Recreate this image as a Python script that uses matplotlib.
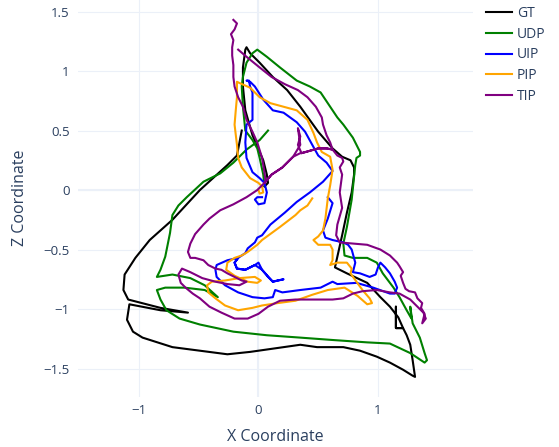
import matplotlib
matplotlib.use("Agg")
import matplotlib.pyplot as plt

plt.rcParams['font.family'] = ['Open Sans', 'DejaVu Sans']

# Trajectories (X, Z)
gt_x = [-0.14, -0.18, -0.26, -0.49, -0.72, -0.91, -1.03, -1.12, -1.13, -1.09,
        -0.82, -0.59, -0.82, -1.08, -1.10, -1.05, -0.97, -0.72, -0.49, -0.26,
        -0.07, 0.21, 0.35, 0.49, 0.71, 0.85, 0.99, 1.10, 1.21, 1.29,
        1.31, 1.29, 1.27, 1.24, 1.21, 1.15, 1.15, 1.15, 1.21, 1.17,
        1.10, 1.02, 0.91, 0.74, 0.64, 0.66, 0.70, 0.74, 0.78, 0.80,
        0.80, 0.77, 0.70, 0.62, 0.50, 0.35, 0.24, 0.12, 0.01, -0.07,
        -0.10, -0.11, -0.13, -0.13, -0.11, -0.05, 0.04, 0.07, 0.08, 0.05]
gt_z = [0.50, 0.29, 0.21, 0.00, -0.25, -0.42, -0.57, -0.71, -0.84, -0.92,
        -0.99, -1.03, -1.01, -0.96, -1.09, -1.19, -1.24, -1.32, -1.35, -1.38,
        -1.36, -1.32, -1.30, -1.32, -1.32, -1.35, -1.40, -1.45, -1.51, -1.56,
        -1.57, -1.43, -1.30, -1.22, -1.16, -1.16, -0.98, -1.16, -1.16, -1.07,
        -0.98, -0.90, -0.78, -0.70, -0.65, -0.56, -0.38, -0.19, -0.02, 0.13,
        0.19, 0.25, 0.28, 0.35, 0.49, 0.70, 0.84, 0.95, 1.07, 1.15,
        1.20, 1.18, 1.03, 0.87, 0.67, 0.46, 0.25, 0.13, 0.06, 0.03]

udp_x = [0.08, 0.01, -0.10, -0.21, -0.32, -0.46, -0.60, -0.67, -0.72, -0.74,
         -0.78, -0.82, -0.85, -0.72, -0.57, -0.45, -0.34, -0.45, -0.62, -0.78,
         -0.85, -0.82, -0.77, -0.66, -0.49, -0.21, 0.07, 0.35, 0.62, 0.91,
         1.10, 1.27, 1.39, 1.41, 1.39, 1.35, 1.29, 1.27, 1.28, 1.24,
         1.18, 1.13, 1.04, 0.99, 0.91, 0.79, 0.72, 0.71, 0.74, 0.78,
         0.81, 0.82, 0.85, 0.85, 0.79, 0.71, 0.66, 0.60, 0.52, 0.43,
         0.32, 0.18, 0.07, -0.01, -0.05, -0.10, -0.13, -0.14, -0.13, -0.11,
         -0.05, -0.01, 0.01, 0.04, 0.05]
udp_z = [0.50, 0.42, 0.34, 0.23, 0.14, 0.07, -0.06, -0.13, -0.21, -0.36,
         -0.56, -0.67, -0.73, -0.71, -0.74, -0.80, -0.90, -0.84, -0.82, -0.82,
         -0.84, -0.92, -1.01, -1.08, -1.13, -1.19, -1.22, -1.24, -1.26, -1.28,
         -1.29, -1.37, -1.45, -1.43, -1.37, -1.24, -1.12, -0.98, -1.08, -1.01,
         -0.90, -0.82, -0.70, -0.61, -0.57, -0.57, -0.55, -0.45, -0.31, -0.08,
         0.21, 0.27, 0.29, 0.32, 0.44, 0.55, 0.61, 0.70, 0.82, 0.87,
         0.92, 1.03, 1.12, 1.18, 1.15, 1.07, 0.95, 0.87, 0.70, 0.50,
         0.42, 0.35, 0.27, 0.13, 0.04]

uip_x = [0.03, -0.01, -0.03, 0.00, 0.05, 0.07, 0.05, 0.01, -0.05, -0.10,
         -0.11, -0.10, -0.05, -0.05, -0.05, -0.05, -0.07, -0.08, -0.10, -0.07,
         -0.03, 0.04, 0.12, 0.21, 0.32, 0.39, 0.45, 0.50, 0.57, 0.62,
         0.54, 0.43, 0.32, 0.22, 0.10, 0.03, -0.01, -0.03, -0.09, -0.11,
         -0.17, -0.20, -0.18, -0.11, -0.03, 0.00, 0.03, 0.08, 0.12, 0.16,
         0.21, 0.12, 0.03, -0.03, -0.11, -0.18, -0.20, -0.17, -0.26, -0.35,
         -0.36, -0.35, -0.28, -0.17, -0.05, 0.05, 0.12, 0.14, 0.20, 0.35,
         0.52, 0.62, 0.66, 0.82, 0.96, 1.10, 1.14, 1.16, 1.14, 1.10,
         1.06, 1.02, 1.00, 0.98, 0.93, 0.85, 0.79, 0.81, 0.78, 0.75,
         0.71, 0.62, 0.56, 0.54, 0.58, 0.62, 0.58]
uip_z = [-0.06, -0.06, -0.08, -0.12, -0.11, -0.02, 0.06, 0.10, 0.15, 0.27,
         0.40, 0.55, 0.59, 0.67, 0.73, 0.82, 0.87, 0.92, 0.92, 0.91,
         0.87, 0.76, 0.67, 0.65, 0.57, 0.49, 0.38, 0.29, 0.23, 0.16,
         0.07, -0.02, -0.10, -0.19, -0.29, -0.38, -0.40, -0.44, -0.49, -0.53,
         -0.57, -0.61, -0.66, -0.67, -0.63, -0.61, -0.67, -0.73, -0.77, -0.76,
         -0.75, -0.77, -0.67, -0.63, -0.67, -0.66, -0.61, -0.57, -0.59, -0.63,
         -0.67, -0.73, -0.80, -0.86, -0.90, -0.91, -0.90, -0.84, -0.86, -0.84,
         -0.82, -0.77, -0.79, -0.78, -0.82, -0.87, -0.87, -0.82, -0.77, -0.70,
         -0.65, -0.61, -0.65, -0.71, -0.73, -0.70, -0.69, -0.61, -0.50, -0.46,
         -0.44, -0.42, -0.40, -0.34, -0.24, -0.11, -0.06]

pip_x = [0.00, 0.01, 0.04, 0.03, 0.00, -0.07, -0.14, -0.17, -0.18, -0.20,
         -0.19, -0.18, -0.18, -0.16, -0.07, 0.01, 0.10, 0.21, 0.32, 0.41,
         0.46, 0.49, 0.53, 0.60, 0.62, 0.60, 0.58, 0.56, 0.54, 0.50,
         0.46, 0.50, 0.60, 0.62, 0.62, 0.60, 0.66, 0.74, 0.78, 0.77,
         0.82, 0.87, 0.93, 0.95, 0.91, 0.83, 0.72, 0.58, 0.45, 0.31,
         0.16, 0.03, -0.05, -0.17, -0.28, -0.36, -0.42, -0.43, -0.39, -0.28,
         -0.16, -0.03, 0.02, -0.01, -0.09, -0.20, -0.27, -0.26, -0.20, -0.14,
         -0.09, -0.01, 0.03, 0.18, 0.31, 0.35, 0.41, 0.45]
pip_z = [0.00, -0.03, -0.02, 0.03, 0.06, 0.10, 0.19, 0.27, 0.38, 0.55,
         0.67, 0.78, 0.91, 0.90, 0.86, 0.78, 0.73, 0.70, 0.67, 0.59,
         0.48, 0.40, 0.32, 0.28, 0.17, 0.04, -0.07, -0.24, -0.34, -0.39,
         -0.42, -0.46, -0.46, -0.50, -0.59, -0.63, -0.61, -0.61, -0.66, -0.70,
         -0.77, -0.84, -0.91, -0.95, -0.96, -0.89, -0.82, -0.84, -0.88, -0.93,
         -0.95, -0.97, -0.99, -1.01, -0.97, -0.91, -0.86, -0.80, -0.77, -0.76,
         -0.74, -0.73, -0.76, -0.78, -0.77, -0.72, -0.67, -0.61, -0.57, -0.55,
         -0.52, -0.46, -0.42, -0.31, -0.21, -0.17, -0.13, -0.07]

tip_x = [-0.21, -0.18, -0.20, -0.23, -0.21, -0.22, -0.22, -0.21, -0.21, -0.20,
         -0.17, -0.13, -0.10, -0.05, -0.01, 0.03, 0.05, 0.06, -0.01, -0.10,
         -0.21, -0.32, -0.41, -0.46, -0.53, -0.57, -0.59, -0.57, -0.53, -0.46,
         -0.42, -0.36, -0.31, -0.26, -0.20, -0.14, -0.10, -0.16, -0.26, -0.36,
         -0.47, -0.57, -0.64, -0.67, -0.65, -0.61, -0.55, -0.49, -0.41, -0.31,
         -0.20, -0.09, 0.00, 0.08, 0.18, 0.31, 0.43, 0.53, 0.62, 0.71,
         0.79, 0.87, 0.99, 1.10, 1.18, 1.27, 1.33, 1.38, 1.40, 1.37,
         1.39, 1.36, 1.37, 1.33, 1.31, 1.26, 1.23, 1.21, 1.19, 1.21,
         1.18, 1.16, 1.10, 1.02, 0.91, 0.79, 0.68, 0.65, 0.66, 0.70,
         0.68, 0.70, 0.68, 0.71, 0.70, 0.66, 0.62, 0.57, 0.50, 0.43,
         0.36, 0.33, 0.35, 0.33, 0.35, 0.29, 0.20, 0.11, 0.05, 0.11,
         0.20, 0.29, 0.35, 0.36, 0.43, 0.50, 0.57, 0.62, 0.60, 0.57,
         0.54, 0.53, 0.48, 0.41, 0.33, 0.22, 0.11, 0.01, -0.10, -0.17]
tip_z = [1.43, 1.40, 1.35, 1.31, 1.26, 1.20, 1.13, 1.05, 0.95, 0.87,
         0.78, 0.70, 0.59, 0.49, 0.40, 0.27, 0.15, 0.07, 0.00, -0.06,
         -0.12, -0.17, -0.24, -0.29, -0.37, -0.45, -0.52, -0.57, -0.57, -0.59,
         -0.63, -0.66, -0.67, -0.70, -0.73, -0.76, -0.77, -0.80, -0.79, -0.77,
         -0.74, -0.69, -0.66, -0.71, -0.78, -0.82, -0.87, -0.91, -0.98, -1.03,
         -1.08, -1.08, -1.04, -0.98, -0.93, -0.92, -0.92, -0.92, -0.92, -0.91,
         -0.87, -0.85, -0.84, -0.86, -0.87, -0.92, -0.98, -1.03, -1.08, -1.12,
         -1.04, -0.99, -0.95, -0.91, -0.86, -0.85, -0.83, -0.78, -0.72, -0.69,
         -0.64, -0.61, -0.55, -0.50, -0.46, -0.45, -0.44, -0.38, -0.29, -0.15,
         -0.02, 0.13, 0.19, 0.24, 0.27, 0.29, 0.34, 0.35, 0.35, 0.33,
         0.31, 0.38, 0.45, 0.52, 0.38, 0.28, 0.19, 0.13, 0.06, 0.13,
         0.19, 0.28, 0.31, 0.31, 0.33, 0.35, 0.35, 0.34, 0.40, 0.46,
         0.55, 0.61, 0.70, 0.78, 0.84, 0.89, 0.95, 1.03, 1.12, 1.18]

names = ["GT", "UDP", "UIP", "PIP", "TIP"]
colors = ["black", "green", "blue", "orange", "purple"]
xs = [gt_x, udp_x, uip_x, pip_x, tip_x]
zs = [gt_z, udp_z, uip_z, pip_z, tip_z]

text_color = "#2a3f5f"
grid_color = "#EBF0F8"

fig = plt.figure(figsize=(5.59, 4.47), dpi=100)
ax = fig.add_axes([78 / 559, 1 - 397 / 447, 395 / 559, 397 / 447])

for x, z, name, c in zip(xs, zs, names, colors):
    ax.plot(x, z, color=c, lw=1.5, label=name, solid_joinstyle="round")

ax.set_xlim(-1.51, 1.795)
ax.set_ylim(-1.739, 1.597)
ax.set_xticks([-1, 0, 1])
ax.set_xticklabels(["\u22121", "0", "1"])
ax.set_yticks([-1.5, -1, -0.5, 0, 0.5, 1, 1.5])
ax.set_yticklabels(["\u22121.5", "\u22121", "\u22120.5", "0", "0.5", "1", "1.5"])
ax.grid(True, color=grid_color, lw=0.8, zorder=0)
ax.axhline(0, color=grid_color, lw=1.5, zorder=0)
ax.axvline(0, color=grid_color, lw=1.5, zorder=0)
ax.set_axisbelow(True)
for s in ax.spines.values():
    s.set_visible(False)
ax.tick_params(length=0, labelsize=9.5, labelcolor=text_color)
ax.tick_params(axis="y", pad=6)
ax.tick_params(axis="x", pad=5)

fig.text(275.5 / 559, 1 - 437 / 447, "X Coordinate", ha="center", va="center",
         fontsize=11.5, color=text_color)
fig.text(20 / 559, 1 - 198 / 447, "Z Coordinate", ha="center", va="center",
         rotation=90, fontsize=11.5, color=text_color)

handles, labels = ax.get_legend_handles_labels()
fig.legend(handles, labels, loc="upper left", bbox_to_anchor=(483 / 559, 1 - 3 / 447),
           frameon=False, fontsize=10, labelcolor=text_color, handlelength=1.9,
           handletextpad=0.35, labelspacing=0.42, borderpad=0.2, borderaxespad=0)

fig.savefig("out.png", dpi=100)
